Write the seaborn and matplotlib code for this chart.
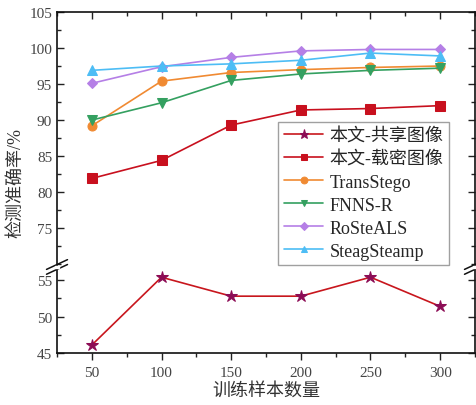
import matplotlib
matplotlib.use('Agg')
import matplotlib.pyplot as plt
import seaborn as sns
from matplotlib.ticker import AutoMinorLocator, MultipleLocator

sns.set_style('ticks')
plt.rcParams['font.family'] = ['Liberation Serif', 'Noto Sans CJK SC']
plt.rcParams['axes.unicode_minus'] = False

# data
samples = [50, 100, 150, 200, 250, 300]
shared = [46.1, 55.4, 52.8, 52.8, 55.4, 51.4]      # 本文-共享图像
stego = [81.9, 84.4, 89.3, 91.4, 91.6, 92.0]       # 本文-载密图像
transstego = [89.2, 95.4, 96.6, 97.0, 97.3, 97.5]
fnns_r = [90.0, 92.4, 95.5, 96.4, 96.9, 97.2]
rosteals = [95.1, 97.4, 98.7, 99.6, 99.8, 99.8]
stegastamp = [96.9, 97.5, 97.8, 98.3, 99.3, 98.9]

upper = [
    ('本文-载密图像', stego, '#c8101e', 's'),
    ('TransStego', transstego, '#f08a32', 'o'),
    ('FNNS-R', fnns_r, '#34a060', 'v'),
    ('RoSteALS', rosteals, '#b57fe6', 'D'),
    ('SteagSteamp', stegastamp, '#4dbdf5', '^'),
]

fig, (ax1, ax2) = plt.subplots(
    2, 1, figsize=(4.77, 4.06), dpi=100, sharex=True,
    gridspec_kw={'height_ratios': [255, 86], 'hspace': 0})
fig.subplots_adjust(left=0.1195, right=0.9958, top=0.968, bottom=0.128)

sns.lineplot(x=samples, y=shared, ax=ax2, color='#c8161d',
             marker='*', markersize=9, markerfacecolor='#8c0c55',
             markeredgecolor='#8c0c55', linewidth=1.2,
             label='本文-共享图像', legend=False)
for name, vals, col, mk in upper:
    ms = 6.5 if mk != 'D' else 5.5
    sns.lineplot(x=samples, y=vals, ax=ax1, color=col, marker=mk,
                 markersize=ms, markeredgecolor=col, linewidth=1.2,
                 label=name, legend=False)

ax1.set_ylim(69.6, 105)
ax2.set_ylim(45, 56.8)
ax2.set_xlim(25, 325)
ax1.yaxis.set_major_locator(MultipleLocator(5))
ax2.yaxis.set_major_locator(MultipleLocator(5))
ax2.xaxis.set_major_locator(MultipleLocator(50))
ax1.set_yticks([75, 80, 85, 90, 95, 100, 105])

for ax in (ax1, ax2):
    ax.yaxis.set_minor_locator(AutoMinorLocator(2))
    ax.xaxis.set_minor_locator(AutoMinorLocator(2))
    ax.tick_params(which='both', direction='in', right=True, top=True,
                   labelsize=11, width=1.0, colors='#222222', labelcolor='#444444')
    ax.tick_params(which='major', length=5)
    ax.tick_params(which='minor', length=3)
    for sp in ax.spines.values():
        sp.set_linewidth(1.2)
        sp.set_color('#111111')

ax1.spines['bottom'].set_visible(False)
ax2.spines['top'].set_visible(False)
ax1.tick_params(which='both', bottom=False, labelbottom=False)
ax2.tick_params(which='both', top=False)
ax2.tick_params(axis='x', which='both', direction='out', pad=4)

# break marks on the left and right spines
kw = dict(color='#111111', linewidth=1.1, clip_on=False)
sp = fig.subplotpars
for xx in (sp.left, sp.right):
    for dy in (-0.006, 0.006):
        fig.lines.append(plt.Line2D([xx - 0.022, xx + 0.022],
                                    [0.340 + dy - 0.012, 0.340 + dy + 0.012],
                                    transform=fig.transFigure, **kw))
    fig.patches.append(plt.Rectangle((xx - 0.004, 0.337), 0.008, 0.006,
                                     transform=fig.transFigure,
                                     color='white', zorder=5))

handles = ax2.get_lines()[:1] + ax1.get_lines()
labels = ['本文-共享图像'] + [u[0] for u in upper]
leg = ax1.legend(handles, labels, loc='lower right', bbox_to_anchor=(0.938, 0.008),
                 fontsize=13, frameon=True, fancybox=False, edgecolor='#888888',
                 handlelength=2.2, labelspacing=0.33, borderpad=0.3,
                 handletextpad=0.35, borderaxespad=0.0, markerscale=0.75)
leg.get_frame().set_linewidth(1.0)

ax2.set_xlabel('训练样本数量', fontsize=13, color='#333333', labelpad=2)
fig.text(0.032, 0.55, '检测准确率/%', rotation=90, fontsize=13, color='#333333',
         ha='center', va='center')

fig.savefig('out.png', dpi=100)
